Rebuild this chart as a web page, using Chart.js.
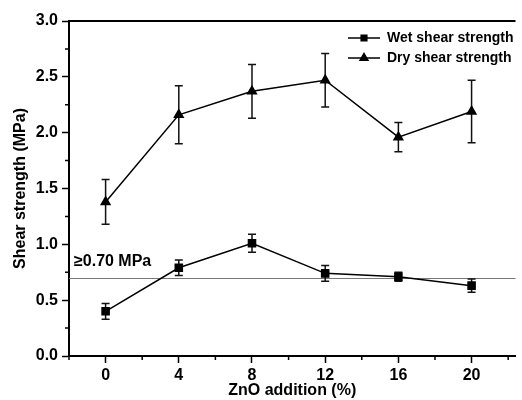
<!DOCTYPE html>
<html>
<head>
    <title>Shear strength</title>
    <script src="https://cdn.jsdelivr.net/npm/chart.js"></script>
    <style>
        body {
            margin: 0;
            background-color: #fff;
        }
        .chart-container {
            width: 522px;
            height: 400px;
            position: relative;
        }
    </style>
</head>
<body>
<div class="chart-container">
    <canvas id="shearChart"></canvas>
</div>

<script>
    // data
    const zno = [0, 4, 8, 12, 16, 20];
    const wetShear = [0.40, 0.79, 1.01, 0.74, 0.71, 0.63];
    const wetErr = [0.07, 0.07, 0.08, 0.07, 0.04, 0.06];
    const dryShear = [1.38, 2.16, 2.37, 2.47, 1.96, 2.19];
    const dryErr = [0.20, 0.26, 0.24, 0.24, 0.13, 0.28];
    const threshold = 0.70;
    const xTicks = [0, 4, 8, 12, 16, 20];
    const xMinorTicks = [-2, 2, 6, 10, 14, 18, 22];
    const yTicks = [0, 0.5, 1.0, 1.5, 2.0, 2.5, 3.0];
    const yMinorTicks = [0.25, 0.75, 1.25, 1.75, 2.25, 2.75];

    const FONT = 'Liberation Sans, Arial, sans-serif';
    const ctx = document.getElementById('shearChart').getContext('2d');

    const errBars = {
        id: 'errBars',
        beforeDatasetsDraw(chart) {
            const c = chart.ctx;
            const xs = chart.scales.x, ys = chart.scales.y;
            const errs = [wetErr, dryErr];
            c.save();
            c.strokeStyle = '#111';
            c.lineWidth = 1.5;
            chart.data.datasets.forEach((ds, i) => {
                ds.data.forEach(p => {
                    const idx = zno.indexOf(p.x);
                    const e = errs[i][idx];
                    const px = xs.getPixelForValue(p.x);
                    const top = ys.getPixelForValue(p.y + e);
                    const bot = ys.getPixelForValue(p.y - e);
                    c.beginPath();
                    c.moveTo(px, top); c.lineTo(px, bot);
                    c.moveTo(px - 4, top); c.lineTo(px + 4, top);
                    c.moveTo(px - 4, bot); c.lineTo(px + 4, bot);
                    c.stroke();
                });
            });
            c.restore();
        }
    };

    const extras = {
        id: 'extras',
        beforeDatasetsDraw(chart) {
            const c = chart.ctx;
            const a = chart.chartArea;
            const ys = chart.scales.y;
            c.save();
            // 0.70 MPa line
            const ty = Math.round(ys.getPixelForValue(threshold)) + 0.5;
            c.strokeStyle = '#777';
            c.lineWidth = 1;
            c.beginPath();
            c.moveTo(a.left, ty); c.lineTo(a.right, ty);
            c.stroke();
            c.restore();
        },
        afterDraw(chart) {
            const c = chart.ctx;
            const a = chart.chartArea;
            const xs = chart.scales.x, ys = chart.scales.y;
            c.save();
            c.strokeStyle = '#000';
            // top frame
            c.lineWidth = 2;
            c.beginPath();
            c.moveTo(a.left, a.top); c.lineTo(a.right, a.top);
            c.stroke();
            // minor ticks
            c.lineWidth = 1.5;
            c.beginPath();
            xMinorTicks.forEach(v => {
                const px = xs.getPixelForValue(v);
                c.moveTo(px, a.bottom); c.lineTo(px, a.bottom + 4);
            });
            yMinorTicks.forEach(v => {
                const py = ys.getPixelForValue(v);
                c.moveTo(a.left, py); c.lineTo(a.left - 4, py);
            });
            c.stroke();

            // threshold label
            c.fillStyle = '#000';
            c.font = 'bold 16px ' + FONT;
            c.textBaseline = 'middle';
            c.fillText('\u22650.70 MPa', a.left + 5, ys.getPixelForValue(threshold) - 16);

            // legend
            const rows = [
                { label: 'Wet shear strength', style: 'rect', r: 4, y: 38 },
                { label: 'Dry shear strength', style: 'triangle', r: 4.5, y: 58 }
            ];
            c.font = 'bold 14px ' + FONT;
            rows.forEach(r => {
                c.lineWidth = 1.5;
                c.beginPath();
                c.moveTo(348, r.y); c.lineTo(380, r.y);
                c.stroke();
                Chart.helpers.drawPoint(c, { pointStyle: r.style, radius: r.r, borderWidth: 1 }, 364, r.y);
                c.fill();
                c.fillText(r.label, 387, r.y);
            });
            c.restore();
        }
    };

    const chart = new Chart(ctx, {
        type: 'line',
        data: {
            datasets: [{
                label: 'Wet shear strength',
                data: zno.map((x, i) => ({ x: x, y: wetShear[i] })),
                borderColor: '#000',
                backgroundColor: '#000',
                borderWidth: 1.5,
                pointStyle: 'rect',
                pointRadius: 5,
                tension: 0
            }, {
                label: 'Dry shear strength',
                data: zno.map((x, i) => ({ x: x, y: dryShear[i] })),
                borderColor: '#000',
                backgroundColor: '#000',
                borderWidth: 1.5,
                pointStyle: 'triangle',
                pointRadius: 5,
                tension: 0
            }]
        },
        options: {
            responsive: true,
            maintainAspectRatio: false,
            animation: false,
            layout: { padding: { top: 21, right: 0, left: 0, bottom: 0 } },
            plugins: { legend: { display: false }, tooltip: { enabled: false } },
            scales: {
                x: {
                    type: 'linear',
                    min: -2,
                    max: 22.4,
                    afterBuildTicks: s => { s.ticks = xTicks.map(v => ({ value: v })); },
                    afterFit: s => { s.height = 44; },
                    border: { color: '#000', width: 2 },
                    grid: { drawOnChartArea: false, color: '#000', tickLength: 7, tickWidth: 1.5 },
                    ticks: { color: '#000', padding: 3, maxRotation: 0, font: { family: FONT, size: 16, weight: 'bold' } },
                    title: {
                        display: true,
                        text: 'ZnO addition (%)',
                        color: '#000',
                        padding: { top: 3, bottom: 0 },
                        font: { family: FONT, size: 16, weight: 'bold' }
                    }
                },
                y: {
                    min: 0,
                    max: 3,
                    afterBuildTicks: s => { s.ticks = yTicks.map(v => ({ value: v })); },
                    afterFit: s => { s.width = 69; },
                    border: { color: '#000', width: 2 },
                    grid: { drawOnChartArea: false, color: '#000', tickLength: 7, tickWidth: 1.5 },
                    ticks: {
                        color: '#000',
                        padding: 4,
                        font: { family: FONT, size: 16, weight: 'bold' },
                        callback: v => v.toFixed(1)
                    },
                    title: {
                        display: true,
                        text: 'Shear strength (MPa)',
                        color: '#000',
                        padding: { top: 11, bottom: 0 },
                        font: { family: FONT, size: 16, weight: 'bold' }
                    }
                }
            }
        },
        plugins: [extras, errBars]
    });
</script>
</body>
</html>
